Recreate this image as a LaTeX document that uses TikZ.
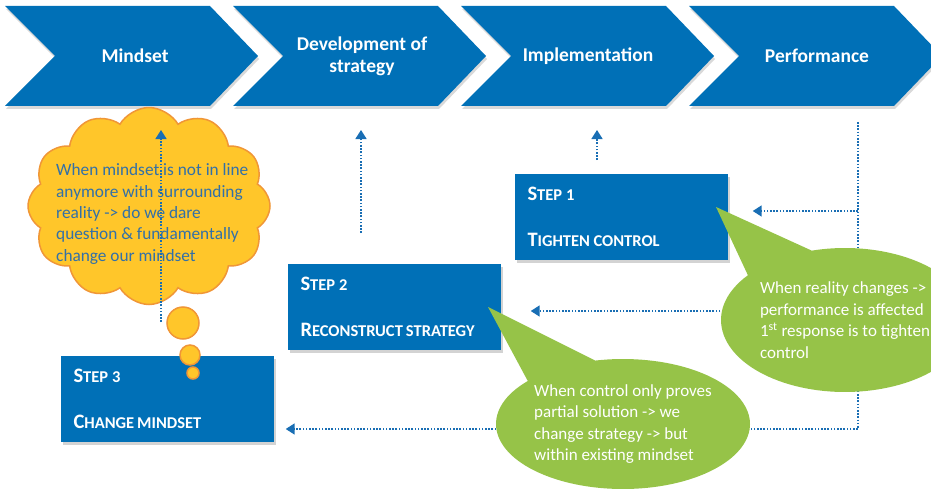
\documentclass[tikz,border=0pt]{standalone}
\usepackage{fontspec}
\setmainfont{Carlito}
\usetikzlibrary{shapes.symbols,shapes.callouts,shadows,arrows.meta}

\definecolor{boxblue}{RGB}{0,112,183}
\definecolor{flowblue}{RGB}{25,110,180}
\definecolor{bubblegreen}{RGB}{150,195,72}
\definecolor{cloudfill}{RGB}{255,198,42}
\definecolor{cloudline}{RGB}{240,150,55}
\definecolor{cloudtext}{RGB}{50,112,168}

% capital, then the rest in smaller capitals
\newcommand{\stepcaps}[2]{#1{\fontsize{16.5}{20}\selectfont #2}}

\tikzset{
  chevron/.style={fill=boxblue, drop shadow={shadow xshift=1pt, shadow yshift=-3pt, opacity=0.3}},
  chevlabel/.style={text=white, font=\fontsize{19.5}{22}\selectfont\bfseries, align=center},
  stepbox/.style={fill=boxblue, minimum width=213pt, minimum height=86pt, text width=187pt,
    align=left, inner sep=0pt, text=white, font=\fontsize{20.5}{20}\selectfont\bfseries,
    drop shadow={shadow xshift=2pt, shadow yshift=-3pt, opacity=0.35}},
  flow/.style={flowblue, line width=1.6pt, dash pattern=on 1.6pt off 1.6pt,
    -{Triangle[width=11pt,length=9pt]}},
  bubble/.style={ellipse callout, fill=bubblegreen, text=white, align=left, inner sep=0pt,
    font=\fontsize{17}{21.5}\selectfont, callout pointer arc=36},
  thought/.style={fill=cloudfill, draw=cloudline, line width=1.5pt}
}

\begin{document}
\begin{tikzpicture}[x=1pt,y=-1pt]
\useasboundingbox (0,0) rectangle (931,492);

% process chevrons
\foreach \x in {5,233,461,689}
  \fill[chevron] (\x,6) -- ++(205,0) -- ++(48,50) -- ++(-48,50) -- ++(-205,0) -- ++(50,-50) -- cycle;
\node[chevlabel] (mindset) at (135,56) {Mindset};
\node[chevlabel] (strategy) at (362,56) {Development of\\strategy};
\node[chevlabel] (impl) at (588,56) {Implementation};
\node[chevlabel] (perf) at (817,56) {Performance};

% steps
\node[stepbox] (step1) at (621,217) {\stepcaps{S}{TEP\hspace{4pt}1}\\[26pt]\stepcaps{T}{IGHTEN\hspace{3.5pt}CONTROL}};
\node[stepbox] (step2) at (394,307) {\stepcaps{S}{TEP\hspace{4pt}2}\\[26pt]\stepcaps{R}{ECONSTRUCT\hspace{3pt}STRATEGY}};
\node[stepbox] (step3) at (167,399) {\stepcaps{S}{TEP\hspace{4pt}3}\\[26pt]\stepcaps{C}{HANGE\hspace{3pt}MINDSET}};

% feedback from performance
\coordinate (drop) at (858,122);
\coordinate (turn) at (858,429);
\coordinate (r1) at (858,211);
\coordinate (r2) at (858,311);
\draw[flow] (drop) -- (turn) -- ([xshift=12pt]step3.east |- turn);
\draw[flow] (r1) -- ([xshift=25pt]step1.east |- r1);
\draw[flow] (r2) -- ([xshift=30pt]step2.east |- r2);

% steps feeding back up
\coordinate (u1) at (597,160);
\coordinate (v1) at (597,130);
\coordinate (u2) at (361,233);
\coordinate (v2) at (361,130);
\coordinate (u3) at (161,322);
\coordinate (v3) at (161,130);
\draw[flow] (u1) -- (v1);
\draw[flow] (u2) -- (v2);

% thought cloud
\node[cloud, cloud puffs=12, cloud puff arc=120, aspect=1.2, minimum width=242pt,
  minimum height=197pt, thought] (cloud) at (149,206) {};
\node[circle, minimum size=32pt, inner sep=0pt, thought] (t1) at (183,323) {};
\node[circle, minimum size=20pt, inner sep=0pt, thought] (t2) at (190,355) {};
\node[circle, minimum size=12pt, inner sep=0pt, thought] (t3) at (193,373) {};
\node[anchor=west, align=left, inner sep=0pt, text=cloudtext,
  font=\fontsize{17.3}{21.3}\selectfont] (cloudtxt) at (56,214)
  {When mindset is not in line\\anymore with surrounding\\reality -> do we dare\\question \& fundamentally\\change our mindset};
\draw[flow] (u3) -- (v3);

% speech bubbles
\coordinate (tip1) at (716,207);
\coordinate (tip2) at (488,307);
\node[bubble, minimum width=248pt, minimum height=144pt, callout absolute pointer=(tip1)] (note1) at (845,320)
  {When reality changes ->\\performance is affected\\1\textsuperscript{st} response is to tighten\\control};
\node[bubble, minimum width=254pt, minimum height=130pt, callout absolute pointer=(tip2)] (note2) at (623,424)
  {When control only proves\\partial solution -> we\\change strategy -> but\\within existing mindset};

\end{tikzpicture}
\end{document}
